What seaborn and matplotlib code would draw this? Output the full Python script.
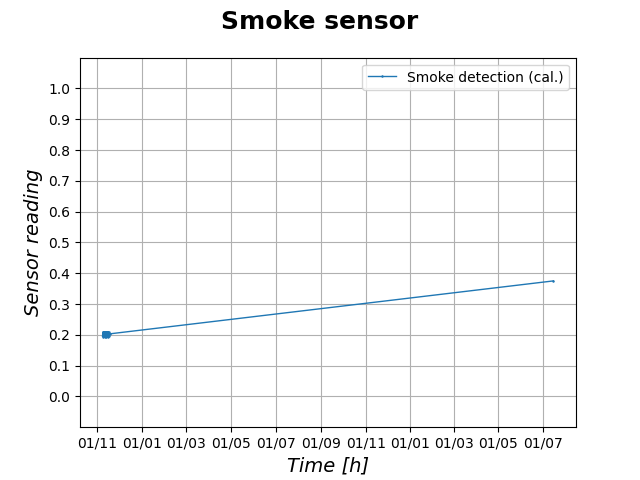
import pandas as pd
import matplotlib
matplotlib.use("Agg")
import matplotlib.pyplot as plt
import matplotlib.dates as mdates
import seaborn as sns

# Relevés du capteur de fumée
timestamps = [
    "2019-11-08 00:00", "2019-11-08 12:00", "2019-11-09 00:00", "2019-11-09 12:00",
    "2019-11-10 00:00", "2019-11-10 12:00", "2019-11-11 00:00", "2019-11-11 12:00",
    "2019-11-12 00:00", "2019-11-12 12:00", "2019-11-13 00:00", "2019-11-13 12:00",
    "2019-11-14 00:00", "2019-11-14 12:00", "2019-11-15 00:00", "2019-11-15 12:00",
    "2019-11-16 00:00", "2019-11-16 12:00", "2019-11-17 00:00", "2019-11-17 12:00",
    "2021-07-15 00:00",
]
readings = [
    0.195, 0.209, 0.194, 0.210, 0.195, 0.209, 0.194, 0.210,
    0.195, 0.209, 0.194, 0.210, 0.195, 0.209, 0.194, 0.210,
    0.195, 0.208, 0.197, 0.203,
    0.375,
]
y_ticks = [0.0, 0.1, 0.2, 0.3, 0.4, 0.5, 0.6, 0.7, 0.8, 0.9, 1.0]

df = pd.DataFrame({"time": pd.to_datetime(timestamps), "reading": readings})

fig, ax = plt.subplots(figsize=(6.4, 4.8), dpi=100)

sns.lineplot(data=df, x="time", y="reading", ax=ax, marker=".", markersize=2,
             linewidth=1, color="tab:blue", markeredgecolor="tab:blue",
             label="Smoke detection (cal.)", estimator=None, sort=False)

fig.suptitle("Smoke sensor", fontsize=18, fontweight="bold")
ax.set_xlabel("Time [h]", fontsize=14, fontstyle="italic")
ax.set_ylabel("Sensor reading", fontsize=14, fontstyle="italic")

ax.set_ylim(-0.1, 1.1)
ax.set_yticks(y_ticks)
ax.xaxis.set_major_locator(mdates.MonthLocator(bymonth=[1, 3, 5, 7, 9, 11]))
ax.xaxis.set_major_formatter(mdates.DateFormatter("%d/%m"))
ax.grid(True)
ax.legend(loc="upper right")

plt.savefig("out.png")
